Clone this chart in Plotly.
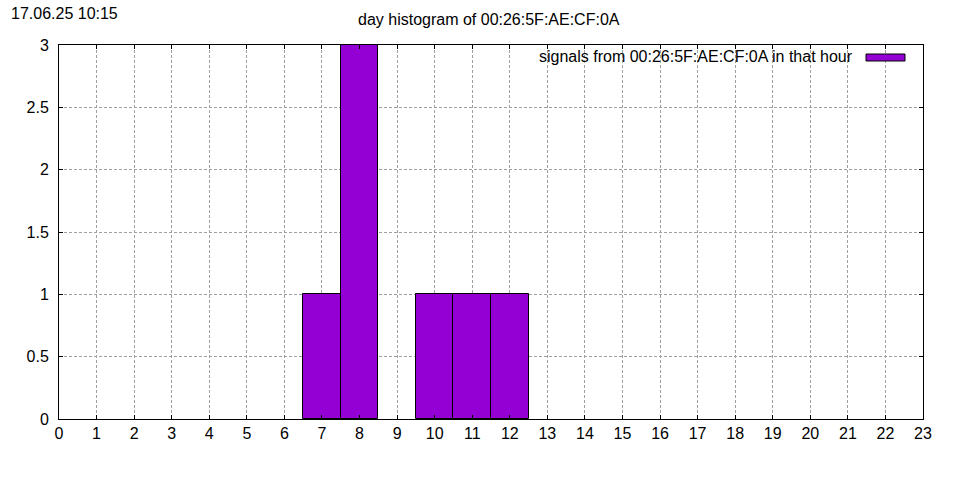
import plotly.graph_objects as go

hours = list(range(24))
counts = [0, 0, 0, 0, 0, 0, 0, 1, 3, 0, 1, 1, 1, 0, 0, 0, 0, 0, 0, 0, 0, 0, 0, 0]
x_ticks = list(range(24))
y_ticks = [0, 0.5, 1, 1.5, 2, 2.5, 3]
title_text = "day histogram of 00:26:5F:AE:CF:0A"
stamp_text = "17.06.25 10:15"
legend_text = "signals from 00:26:5F:AE:CF:0A in that hour"

BAR = "#9400d3"
FONT = "Liberation Sans, Arial, sans-serif"
FS = 16
W, H = 960, 480
L, R, T, B = 59, 37, 45, 61
pw, ph = W - L - R, H - T - B

fig = go.Figure()
fig.add_trace(go.Bar(
    x=hours, y=[c if c else None for c in counts], width=1,
    marker=dict(color=BAR, line=dict(color="black", width=1)),
    showlegend=False,
))

axis_common = dict(
    showline=True, linecolor="black", linewidth=1, mirror="ticks",
    ticks="inside", ticklen=4, tickcolor="black",
    showgrid=True, gridcolor="#a0a0a0", griddash="3px,2px", gridwidth=1,
    zeroline=False, tickfont=dict(family=FONT, size=FS, color="black"),
)
fig.update_xaxes(range=[0, 23], tickvals=x_ticks, ticktext=[str(v) for v in x_ticks],
                 ticklabelstandoff=0, **axis_common)
fig.update_yaxes(range=[0, 3], tickvals=y_ticks, ticklabelstandoff=6, **axis_common)


def px(x):
    return (x - L) / pw


def py(y):
    return (H - B - y) / ph


fig.add_annotation(text=stamp_text, xref="paper", yref="paper", x=px(9), y=py(13),
                   xanchor="left", yanchor="middle", showarrow=False,
                   font=dict(family=FONT, size=FS, color="black"))
fig.add_annotation(text=title_text, xref="paper", yref="paper", x=px(489), y=py(20),
                   xanchor="center", yanchor="middle", showarrow=False,
                   font=dict(family=FONT, size=FS, color="black"))
fig.add_annotation(text=legend_text, xref="paper", yref="paper", x=px(855), y=py(56),
                   xanchor="right", yanchor="middle", showarrow=False,
                   font=dict(family=FONT, size=FS, color="black"))
fig.add_shape(type="rect", xref="paper", yref="paper",
              x0=px(866), x1=px(905), y0=py(61), y1=py(54),
              fillcolor=BAR, line=dict(color="black", width=1))

fig.update_layout(
    width=W, height=H, autosize=False,
    margin=dict(l=L, r=R, t=T, b=B, pad=0),
    plot_bgcolor="white", paper_bgcolor="white",
    bargap=0,
    font=dict(family=FONT, size=FS, color="black"),
)
fig.write_html("out.html", config={"displayModeBar": False},
               post_script="document.body.style.margin='0';document.body.style.overflow='hidden';")
